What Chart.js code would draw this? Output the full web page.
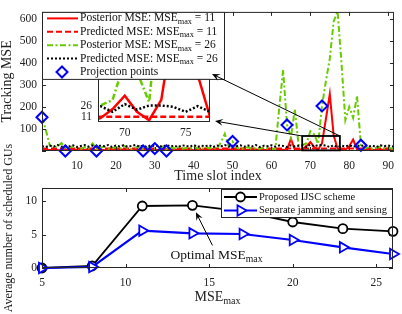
<!DOCTYPE html>
<html>
<head>
<meta charset="utf-8">
<script src="https://cdn.jsdelivr.net/npm/chart.js@4.4.1/dist/chart.umd.min.js"></script>
<style>
  html, body { margin: 0; padding: 0; background: #fff; }
  #wrap { position: relative; width: 402px; height: 314px; overflow: hidden; }
  canvas { position: absolute; left: 0; }
</style>
</head>
<body>
<div id="wrap">
  <canvas id="track" width="402" height="190" style="top:0"></canvas>
  <canvas id="gus" width="402" height="174" style="top:140px"></canvas>
  <canvas id="inset" width="160" height="80" style="left:60px;top:66px"></canvas>
</div>
<script>
const SERIF = "'Liberation Serif', 'Times New Roman', serif";
const INK = '#262626';
const RED = '#ff0000';
const GREEN = '#66cc00';
const BLUE = '#0000ff';

// ---- top panel: tracking MSE per time slot ----
const slots = Array.from({ length: 92 }, (_, i) => i + 1);
const postMse11 = [
  3, 6, 4, 8, 5, 3, 7, 4, 9, 5,
  3, 6, 8, 4, 5, 7, 3, 6, 9, 4,
  5, 8, 3, 6, 4, 7, 5, 3, 8, 6,
  4, 5, 9, 3, 6, 7, 4, 5, 8, 3,
  6, 4, 7, 5, 9, 4, 6, 3, 8, 5,
  4, 7, 3, 6, 5, 8, 4, 6, 3, 7,
  5, 4, 6, 5, 55, 6, 4, 9, 22, 41,
  18, 6, 35, 145, 258, 70, 11, 5, 6, 22,
  52, 8, 5, 7, 4, 6, 5, 8, 4, 6,
  5, 7
];
const predMse11 = [
  11, 11, 11, 11, 11, 11, 11, 11, 11, 11,
  11, 11, 11, 11, 11, 11, 11, 11, 11, 11,
  11, 11, 11, 11, 11, 11, 11, 11, 11, 11,
  11, 11, 11, 11, 11, 11, 11, 11, 11, 11,
  11, 11, 11, 11, 11, 11, 11, 11, 11, 11,
  11, 11, 11, 11, 11, 11, 11, 11, 11, 11,
  11, 11, 11, 11, 11, 11, 11, 11, 11, 11,
  11, 11, 11, 11, 11, 11, 11, 11, 11, 11,
  11, 11, 11, 11, 11, 11, 11, 11, 11, 11,
  11, 11
];
const postMse26 = [
  153, 95, 25, 18, 20, 36, 12, 15, 22, 14,
  10, 18, 12, 34, 8, 15, 20, 10, 12, 18,
  8, 25, 12, 9, 15, 22, 8, 14, 18, 10,
  12, 20, 6, 15, 12, 18, 10, 14, 9, 20,
  12, 8, 20, 12, 15, 10, 40, 78, 22, 43,
  15, 10, 12, 18, 8, 14, 10, 16, 12, 9,
  10, 195, 367, 120, 60, 190, 25, 27, 35, 90,
  75, 32, 204, 317, 418, 587, 632, 400, 140, 200,
  150, 250, 26, 12, 18, 10, 15, 20, 12, 16,
  10, 14
];
const predMse26 = [
  22, 18, 25, 20, 27, 19, 24, 21, 26, 18,
  23, 27, 20, 25, 19, 24, 22, 27, 18, 25,
  21, 26, 19, 23, 27, 20, 24, 18, 26, 22,
  25, 19, 27, 21, 24, 18, 26, 23, 20, 27,
  19, 24, 22, 26, 18, 25, 21, 27, 20, 24,
  22, 26, 19, 25, 21, 27, 18, 24, 22, 26,
  20, 25, 23, 18, 26, 21, 24, 26, 18, 29,
  21, 27, 27, 25, 18, 26, 18, 24, 21, 26,
  19, 25, 22, 27, 20, 24, 18, 26, 22, 25,
  20, 24
];
const projSlots = [1, 7, 15, 27, 30, 33, 50, 64, 73, 83];
const projMse = [153, 0, 0, 0, 11, 0, 43, 118, 204, 26];
const slotTicks = [10, 20, 30, 40, 50, 60, 70, 80, 90];
const mseTicks = [0, 100, 200, 300, 400, 500, 600];

// zoomed window
const insetSlots = [67.8, 77.0];
const insetMse = [3.5, 64.8];
const insetSlotTicks = [70, 75];
const insetMseTicks = [11, 26];
const zoomSlots = [67.9, 77.6];
const zoomMse = [3, 68];

// ---- bottom panel: scheduled GUs vs MSE_max ----
const mseMax = [5, 8, 11, 14, 17, 20, 23, 26];
const proposedGUs = [0, 0.3, 9.3, 9.4, 8.5, 6.9, 5.9, 5.5];
const separateGUs = [0, 0.15, 5.6, 5.2, 5.1, 4.2, 3.1, 2.1];
const mseMaxTicks = [5, 10, 15, 20, 25];
const guTicks = [0, 5, 10];

const INSET_BOX = { left: 98, top: 73, right: 210, bottom: 122 };

const pts = (xs, ys) => xs.map((x, i) => ({ x, y: ys[i] }));
const tickFont = { family: SERIF, size: 11.5 };
const setTicks = (vals) => (scale) => { scale.ticks = vals.map((value) => ({ value })); };

function rich(ctx, parts, x, y, size, measureOnly) {
  let cx = x;
  for (const p of parts) {
    const sub = typeof p !== 'string';
    const t = sub ? p.sub : p;
    const s = sub ? size * 0.72 : size;
    ctx.font = `${s}px ${SERIF}`;
    if (!measureOnly) ctx.fillText(t, cx, sub ? y + size * 0.3 : y);
    cx += ctx.measureText(t).width;
  }
  return cx - x;
}

function arrow(ctx, x0, y0, x1, y1) {
  const a = Math.atan2(y1 - y0, x1 - x0);
  const c = Math.cos(a), s = Math.sin(a);
  const L = 8, W = 3.5;
  ctx.beginPath();
  ctx.moveTo(x0, y0);
  ctx.lineTo(x1 - L * 0.6 * c, y1 - L * 0.6 * s);
  ctx.stroke();
  ctx.beginPath();
  ctx.moveTo(x1, y1);
  ctx.lineTo(x1 - L * c + W * s, y1 - L * s - W * c);
  ctx.lineTo(x1 - L * 0.6 * c, y1 - L * 0.6 * s);
  ctx.lineTo(x1 - L * c - W * s, y1 - L * s + W * c);
  ctx.closePath();
  ctx.fill();
}

function diamond(ctx, x, y, r) {
  ctx.beginPath();
  ctx.moveTo(x, y - r); ctx.lineTo(x + r, y); ctx.lineTo(x, y + r); ctx.lineTo(x - r, y);
  ctx.closePath();
  ctx.stroke();
}

// box round the axes with ticks pointing inwards
function framePlugin(len) {
  return {
    id: 'frame',
    afterDatasetsDraw(chart) {
      const { ctx, chartArea: a, scales: { x, y } } = chart;
      ctx.save();
      ctx.strokeStyle = INK;
      ctx.lineWidth = 1;
      ctx.strokeRect(a.left + 0.5, a.top + 0.5, a.right - a.left - 1, a.bottom - a.top - 1);
      if (len) {
        ctx.beginPath();
        x.ticks.forEach((t) => {
          const px = Math.round(x.getPixelForValue(t.value)) + 0.5;
          ctx.moveTo(px, a.bottom); ctx.lineTo(px, a.bottom - len);
          ctx.moveTo(px, a.top); ctx.lineTo(px, a.top + len);
        });
        y.ticks.forEach((t) => {
          const py = Math.round(y.getPixelForValue(t.value)) + 0.5;
          ctx.moveTo(a.left, py); ctx.lineTo(a.left + len, py);
          ctx.moveTo(a.right, py); ctx.lineTo(a.right - len, py);
        });
        ctx.stroke();
      }
      ctx.restore();
    },
  };
}

function trackLines(w) {
  return [
    { data: pts(slots, predMse26), borderColor: '#000', borderWidth: w, borderDash: [2, 2] },
    { data: pts(slots, postMse26), borderColor: GREEN, borderWidth: w, borderDash: [6, 2.5, 2, 2.5] },
    { data: pts(slots, predMse11), borderColor: RED, borderWidth: w, borderDash: [6, 3] },
    { data: pts(slots, postMse11), borderColor: RED, borderWidth: w },
  ];
}

const trackLegend = [
  { parts: ['Posterior MSE: MSE', { sub: 'max' }, ' = 11'], color: RED, dash: [] },
  { parts: ['Predicted MSE: MSE', { sub: 'max' }, ' = 11'], color: RED, dash: [6, 3] },
  { parts: ['Posterior MSE: MSE', { sub: 'max' }, ' = 26'], color: GREEN, dash: [6, 2.5, 2, 2.5] },
  { parts: ['Predicted MSE: MSE', { sub: 'max' }, ' = 26'], color: '#000', dash: [2, 2] },
  { parts: ['Projection points'], marker: true },
];

const trackOverlay = {
  id: 'trackOverlay',
  afterDraw(chart) {
    const { ctx, chartArea: a, scales: { x, y } } = chart;
    ctx.save();
    // legend
    const lx = a.left, ly = a.top, lw = 183, lh = 68;
    ctx.fillStyle = '#fff';
    ctx.fillRect(lx, ly, lw, lh);
    ctx.strokeStyle = INK;
    ctx.lineWidth = 1;
    ctx.strokeRect(lx + 0.5, ly + 0.5, lw - 1, lh - 1);
    ctx.textBaseline = 'middle';
    trackLegend.forEach((e, i) => {
      const ry = ly + 6.5 + i * 13.4;
      if (e.marker) {
        ctx.strokeStyle = BLUE;
        ctx.lineWidth = 2;
        diamond(ctx, lx + 20, ry, 5.5);
      } else {
        ctx.strokeStyle = e.color;
        ctx.lineWidth = 2;
        ctx.setLineDash(e.dash);
        ctx.beginPath();
        ctx.moveTo(lx + 5, ry); ctx.lineTo(lx + 36, ry);
        ctx.stroke();
        ctx.setLineDash([]);
      }
      ctx.fillStyle = '#111';
      rich(ctx, e.parts, lx + 38, ry, 11.5);
    });
    // zoom rectangle and arrows to the inset
    const rx0 = x.getPixelForValue(zoomSlots[0]), rx1 = x.getPixelForValue(zoomSlots[1]);
    const ry0 = y.getPixelForValue(zoomMse[1]), ry1 = y.getPixelForValue(zoomMse[0]);
    ctx.strokeStyle = '#000';
    ctx.lineWidth = 1.8;
    ctx.strokeRect(rx0, ry0, rx1 - rx0, ry1 - ry0);
    ctx.lineWidth = 1;
    ctx.fillStyle = '#000';
    arrow(ctx, rx1, ry0, INSET_BOX.right + 2, INSET_BOX.top + 1);
    arrow(ctx, rx0, ry0, INSET_BOX.right + 5, INSET_BOX.bottom - 1);
    ctx.restore();
  },
};

new Chart(document.getElementById('track'), {
  type: 'line',
  data: {
    datasets: [
      {
        data: pts(projSlots, projMse), showLine: false, clip: false,
        pointStyle: 'rectRot', pointRadius: 5.5, pointBorderWidth: 2,
        pointBorderColor: BLUE, pointBackgroundColor: 'rgba(0,0,0,0)', borderColor: BLUE,
      },
      ...trackLines(2),
    ],
  },
  options: {
    responsive: false,
    animation: false,
    events: [],
    elements: { line: { tension: 0, fill: false }, point: { radius: 0 } },
    layout: { padding: { left: 0, right: 7, top: 3, bottom: 0 } },
    plugins: { legend: { display: false }, tooltip: { enabled: false } },
    scales: {
      x: {
        type: 'linear', min: 1, max: 91.5,
        afterBuildTicks: setTicks(slotTicks),
        afterFit: (s) => { s.height = 39; },
        grid: { display: false, drawTicks: false },
        border: { display: false },
        ticks: { font: tickFont, color: '#222', padding: 8, maxRotation: 0, autoSkip: false },
        title: { display: true, text: 'Time slot index', color: '#222', font: { family: SERIF, size: 14 }, padding: { top: 0, bottom: 5 } },
      },
      y: {
        min: 0, max: 630,
        afterBuildTicks: setTicks(mseTicks),
        afterFit: (s) => { s.width = 42; },
        grid: { display: false, drawTicks: false },
        border: { display: false },
        ticks: { font: tickFont, color: '#222', padding: 5, callback: (v) => (v === 0 ? '' : v) },
        title: { display: true, text: 'Tracking MSE', color: '#222', font: { family: SERIF, size: 14, lineHeight: 1 }, padding: 0 },
      },
    },
  },
  plugins: [framePlugin(4), trackOverlay],
});

// inset
new Chart(document.getElementById('inset'), {
  type: 'line',
  data: { datasets: trackLines(2.5) },
  options: {
    responsive: false,
    animation: false,
    events: [],
    elements: { line: { tension: 0, fill: false }, point: { radius: 0 } },
    layout: { padding: { left: 0, right: 10, top: 7, bottom: 0 } },
    plugins: { legend: { display: false }, tooltip: { enabled: false } },
    scales: {
      x: {
        type: 'linear', min: insetSlots[0], max: insetSlots[1],
        afterBuildTicks: setTicks(insetSlotTicks),
        afterFit: (s) => { s.height = 24; },
        grid: { display: false, drawTicks: false },
        border: { display: false },
        ticks: { font: tickFont, color: '#222', padding: 4, maxRotation: 0, autoSkip: false },
      },
      y: {
        min: insetMse[0], max: insetMse[1],
        afterBuildTicks: setTicks(insetMseTicks),
        afterFit: (s) => { s.width = 38; },
        grid: { display: false, drawTicks: false },
        border: { display: false },
        ticks: { font: tickFont, color: '#222', padding: 6 },
      },
    },
  },
  plugins: [
    {
      id: 'insetBg',
      beforeDatasetsDraw(chart) {
        const { ctx, chartArea: a } = chart;
        ctx.save();
        ctx.fillStyle = '#fff';
        ctx.fillRect(a.left, a.top, a.right - a.left, a.bottom - a.top);
        ctx.restore();
      },
    },
    framePlugin(0),
  ],
});

// ---- bottom panel ----
const gusLegend = [
  { text: 'Proposed IJSC scheme', color: '#000', width: 1.8, style: 'circle', r: 4.5, rot: 0 },
  { text: 'Separate jamming and sensing', color: BLUE, width: 1.8, style: 'triangle', r: 6, rot: 90 },
];

const gusOverlay = {
  id: 'gusOverlay',
  afterDraw(chart) {
    const { ctx, chartArea: a, scales: { x, y } } = chart;
    ctx.save();
    // legend
    const lw = 172, lh = 29;
    const lx = a.right - lw, ly = a.top + 1;
    ctx.fillStyle = '#fff';
    ctx.fillRect(lx, ly, lw, lh);
    ctx.strokeStyle = INK;
    ctx.lineWidth = 1;
    ctx.strokeRect(lx + 0.5, ly + 0.5, lw - 1, lh - 1);
    ctx.textBaseline = 'middle';
    gusLegend.forEach((e, i) => {
      const ry = ly + 8 + i * 13.5;
      ctx.strokeStyle = e.color;
      ctx.lineWidth = e.width;
      ctx.beginPath();
      ctx.moveTo(lx + 3, ry); ctx.lineTo(lx + 36, ry);
      ctx.stroke();
      ctx.fillStyle = '#fff';
      Chart.helpers.drawPoint(ctx, { pointStyle: e.style, radius: e.r, rotation: e.rot, borderWidth: e.width }, lx + 19.5, ry);
      ctx.fillStyle = '#111';
      ctx.font = `10.5px ${SERIF}`;
      ctx.fillText(e.text, lx + 38, ry);
    });
    // x axis title with subscript
    ctx.fillStyle = '#222';
    const tparts = ['MSE', { sub: 'max' }];
    const tw = rich(ctx, tparts, 0, 0, 14, true);
    rich(ctx, tparts, (a.left + a.right) / 2 - tw / 2, a.bottom + 29.5, 14);
    // annotation pointing at the optimum
    const oparts = ['Optimal MSE', { sub: 'max' }];
    const ox = x.getPixelForValue(mseMax[3]), oy = y.getPixelForValue(proposedGUs[3]);
    ctx.fillStyle = '#111';
    rich(ctx, oparts, ox - 22, oy + 50, 13.5);
    ctx.strokeStyle = '#000';
    ctx.fillStyle = '#000';
    ctx.lineWidth = 1;
    arrow(ctx, ox + 20, oy + 40, ox + 3.5, oy + 7);
    ctx.restore();
  },
};

new Chart(document.getElementById('gus'), {
  type: 'line',
  data: {
    datasets: [
      {
        data: pts(mseMax, separateGUs), borderColor: BLUE, borderWidth: 2.2, clip: false,
        pointStyle: 'triangle', pointRotation: 90, pointRadius: 6, pointBorderWidth: 1.8,
        pointBorderColor: BLUE, pointBackgroundColor: '#fff',
      },
      {
        data: pts(mseMax, proposedGUs), borderColor: '#000', borderWidth: 1.8, clip: false,
        pointStyle: 'circle', pointRadius: 4.5, pointBorderWidth: 1.8,
        pointBorderColor: '#000', pointBackgroundColor: '#fff',
      },
    ],
  },
  options: {
    responsive: false,
    animation: false,
    events: [],
    elements: { line: { tension: 0, fill: false } },
    layout: { padding: { left: 0, right: 9, top: 48, bottom: 0 } },
    plugins: { legend: { display: false }, tooltip: { enabled: false } },
    scales: {
      x: {
        type: 'linear', min: 5, max: 26,
        afterBuildTicks: setTicks(mseMaxTicks),
        afterFit: (s) => { s.height = 46; },
        grid: { display: false, drawTicks: false },
        border: { display: false },
        ticks: { font: tickFont, color: '#222', padding: 8, maxRotation: 0, autoSkip: false },
      },
      y: {
        min: 0, max: 12,
        afterBuildTicks: setTicks(guTicks),
        afterFit: (s) => { s.width = 42; },
        grid: { display: false, drawTicks: false },
        border: { display: false },
        ticks: { font: tickFont, color: '#222', padding: 5 },
        title: { display: true, text: 'Average number of scheduled GUs', color: '#222', font: { family: SERIF, size: 12 }, padding: { top: 2, bottom: 0 } },
      },
    },
  },
  plugins: [framePlugin(4), gusOverlay],
});
</script>
</body>
</html>
